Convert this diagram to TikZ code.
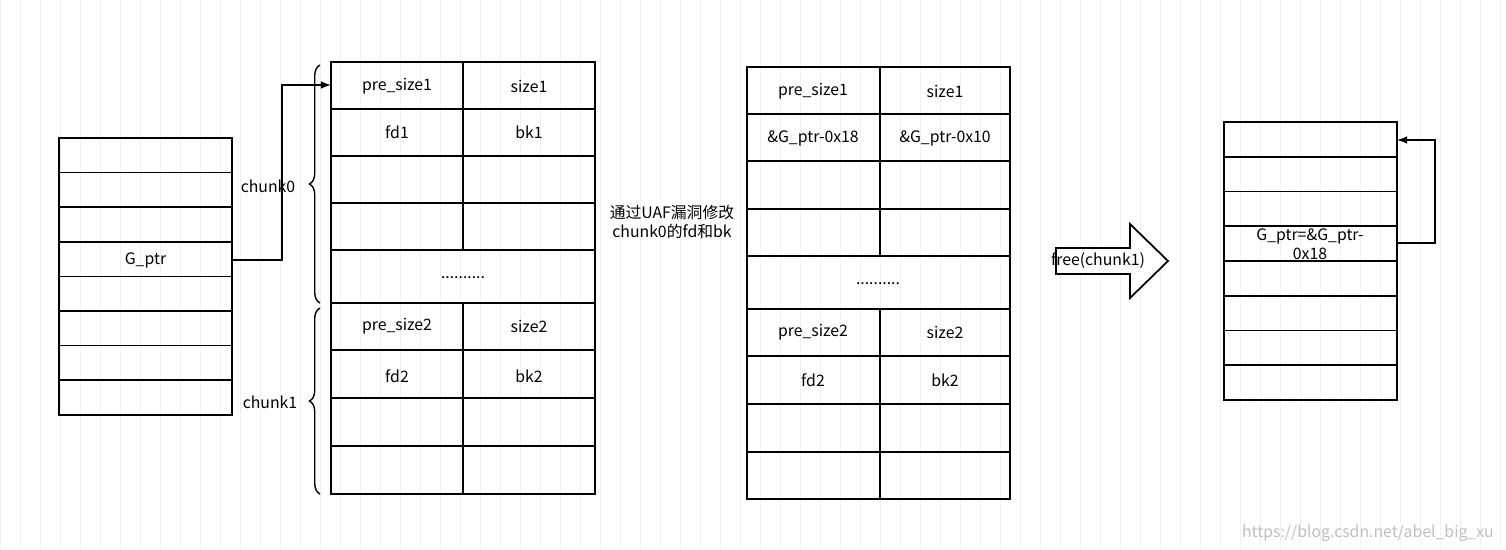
\documentclass[tikz,border=0pt]{standalone}
\usepackage{fontspec}
\setmainfont{Noto Sans CJK SC}
\usetikzlibrary{positioning,shapes.arrows,decorations.pathreplacing}
\tikzset{
  cell/.style={draw, line width=1pt},
  lbl/.style={font=\fontsize{9}{11}\selectfont, align=center},
  link/.style={line width=1pt, -latex},
  brace/.style={decorate, decoration={brace, amplitude=6pt, mirror}, line width=0.8pt}
}
\begin{document}
\begin{tikzpicture}[x=0.02cm, y=-0.02cm]
        \useasboundingbox (0,0) rectangle (1506,549);
        % grid
        \draw[black!6, step=20] (0,0) grid (1506,549);
        % left stack
        \foreach \i in {0,...,7} {
          \draw[cell] (59,{138+\i*34.6}) rectangle (232,{138+(\i+1)*34.6});
        }
        \node[lbl] (gptr) at (145.5,260) {G\_ptr};
        \coordinate (gptrR) at (232,260);
        % chunk table before
        \foreach \a/\b in {62/109,109/156,156/203,203/250,303/350,350/398,398/446,446/494} {
          \draw[cell] (331,\a) rectangle (463,\b);
          \draw[cell] (463,\a) rectangle (595,\b);
        }
        \draw[cell] (331,250) rectangle (595,303);
        \node[lbl] (ps1) at (397,86) {pre\_size1};
        \node[lbl] (s1)  at (529,86) {size1};
        \node[lbl] (fd1) at (397,132) {fd1};
        \node[lbl] (bk1) at (529,132) {bk1};
        \node[lbl] (dots1) at (463,278) {..........};
        \node[lbl] (ps2) at (397,326) {pre\_size2};
        \node[lbl] (s2)  at (529,326) {size2};
        \node[lbl] (fd2) at (397,376) {fd2};
        \node[lbl] (bk2) at (529,376) {bk2};
        \coordinate (ps1L) at (331,85);
        % braces
        \draw[brace] (320,65) -- (320,303);
        \draw[brace] (320,308) -- (320,494);
        \node[lbl] (chunk0) at (268,186) {chunk0};
        \node[lbl] (chunk1) at (270,402) {chunk1};
        \draw[link] (gptrR) -| (282,85) -- (ps1L);
        % note
        \node[lbl] (note) at (672,222) {通过UAF漏洞修改\\chunk0的fd和bk};
        % chunk table after
        \foreach \a/\b in {67/114,114/161,161/209,209/256,309/356,356/404,404/452,452/499} {
          \draw[cell] (747,\a) rectangle (880,\b);
          \draw[cell] (880,\a) rectangle (1010,\b);
        }
        \draw[cell] (747,256) rectangle (1010,309);
        \node[lbl] (nps1) at (813,91) {pre\_size1};
        \node[lbl] (ns1)  at (945,91) {size1};
        \node[lbl] (nfd1) at (813,138) {\&G\_ptr-0x18};
        \node[lbl] (nbk1) at (945,138) {\&G\_ptr-0x10};
        \node[lbl] (ndots) at (878,284) {..........};
        \node[lbl] (nps2) at (813,332) {pre\_size2};
        \node[lbl] (ns2)  at (945,332) {size2};
        \node[lbl] (nfd2) at (813,380) {fd2};
        \node[lbl] (nbk2) at (945,380) {bk2};
        % block arrow
        \draw[line width=1pt, fill=white] (1056,248) -- (1130,248) -- (1130,224) -- (1168,261)
          -- (1130,298) -- (1130,274) -- (1056,274) -- cycle;
        \node[lbl] (free) at (1098,261) {free(chunk1)};
        % right stack
        \foreach \i in {0,...,7} {
          \draw[cell] (1224,{122+\i*34.75}) rectangle (1397,{122+(\i+1)*34.75});
        }
        \node[lbl] (ngptr) at (1310,244) {G\_ptr=\&G\_ptr-\\0x18};
        \coordinate (ngR) at (1397,243);
        \coordinate (topR) at (1397,140);
        \draw[link] (ngR) -| (1435,140) -- (topR);
        % watermark
        \node[lbl, text=black!25, anchor=east] (wm) at (1500,533) {https://blog.csdn.net/abel\_big\_xu};
\end{tikzpicture}
\end{document}
